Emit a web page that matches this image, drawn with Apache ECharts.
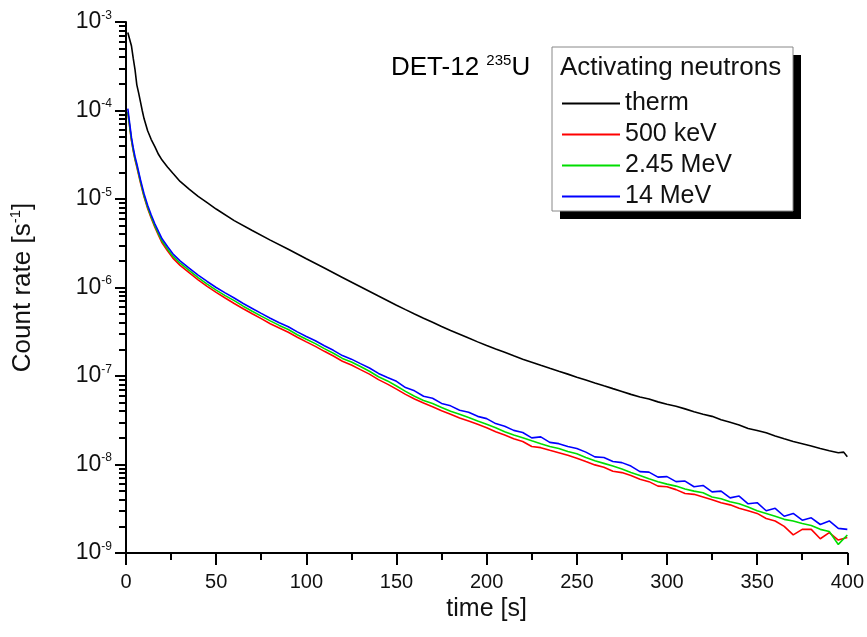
<!DOCTYPE html>
<html><head><meta charset="utf-8">
<script src="https://cdn.jsdelivr.net/npm/echarts@6/dist/echarts.min.js"></script>
<style>html,body{margin:0;padding:0;background:#fff}#c{width:867px;height:637px}</style>
</head><body><div id="c"></div>
<script>
// ---- data ----
const seriesNames = ['therm', '500 keV', '2.45 MeV', '14 MeV'];
const seriesColors = ['#000000', '#ff0000', '#00dd00', '#0000ff'];

const timeTherm = [1,2,3,4,5,6,7,8,9,10,12,14,16,18,20,23,26,30,35,40,45,50,60,70,80,90,100,110,120,130,140,
  150,155,160,165,170,175,180,185,190,195,200,205,210,215,220,225,230,235,240,245,250,255,260,265,270,275,280,285,290,295,
  300,305,310,315,320,325,330,335,340,345,350,355,360,365,370,375,380,385,390,395,398,400];
const therm = [7.6e-4,7.4e-4,5.4e-4,3.9e-4,2.9e-4,1.95e-4,1.58e-4,1.26e-4,1.0e-4,8.1e-5,5.9e-5,4.7e-5,3.9e-5,3.2e-5,2.75e-5,2.3e-5,1.95e-5,1.58e-5,1.29e-5,1.07e-5,9.1e-6,7.7e-6,5.7e-6,4.4e-6,3.43e-6,2.7e-6,2.11e-6,1.66e-6,1.3e-6,1.02e-6,8.0e-7,
  6.31e-7,5.62e-7,5.02e-7,4.5e-7,4.04e-7,3.63e-7,3.27e-7,2.96e-7,2.68e-7,2.43e-7,2.21e-7,2.02e-7,1.85e-7,1.69e-7,1.55e-7,1.43e-7,1.32e-7,1.22e-7,1.13e-7,1.05e-7,9.7e-8,9.0e-8,8.35e-8,7.75e-8,7.2e-8,6.7e-8,6.2e-8,5.8e-8,5.5e-8,5.1e-8,
  4.8e-8,4.55e-8,4.25e-8,3.95e-8,3.7e-8,3.5e-8,3.2e-8,3.0e-8,2.8e-8,2.55e-8,2.42e-8,2.28e-8,2.1e-8,1.95e-8,1.82e-8,1.72e-8,1.62e-8,1.52e-8,1.43e-8,1.36e-8,1.38e-8,1.22e-8];

const timeFast = [1,2,3,4,5,6,7,8,9,10,12,14,16,18,20,23,26,30,35,40,45,
  50,55,60,65,70,75,80,85,90,95,100,105,110,115,120,125,130,135,140,145,150,155,160,165,170,175,180,185,190,195,
  200,205,210,215,220,225,230,235,240,245,250,255,260,265,270,275,280,285,290,295,
  300,305,310,315,320,325,330,335,340,345,350,355,360,365,370,375,380,385,390,395,400];
const kev500 = [9.5e-5,9.2e-5,4.6e-5,3.5e-5,2.78e-5,2.3e-5,1.88e-5,1.53e-5,1.27e-5,1.06e-5,7.8e-6,6.05e-6,4.8e-6,3.9e-6,3.2e-6,2.6e-6,2.15e-6,1.78e-6,1.47e-6,1.22e-6,1.03e-6,
  8.8e-7,7.6e-7,6.6e-7,5.75e-7,5.05e-7,4.45e-7,3.9e-7,3.48e-7,3.12e-7,2.74e-7,2.43e-7,2.16e-7,1.9e-7,1.68e-7,1.47e-7,1.33e-7,1.18e-7,1.05e-7,9.1e-8,8.1e-8,7.1e-8,6.2e-8,5.5e-8,4.95e-8,4.5e-8,4.05e-8,3.7e-8,3.35e-8,3.1e-8,2.85e-8,
  2.6e-8,2.35e-8,2.15e-8,1.95e-8,1.82e-8,1.6e-8,1.55e-8,1.45e-8,1.36e-8,1.27e-8,1.18e-8,1.08e-8,9.9e-9,9.3e-9,8.4e-9,8.1e-9,7.5e-9,6.8e-9,6.4e-9,5.7e-9,
  5.6e-9,5.2e-9,4.7e-9,4.6e-9,4.3e-9,4.0e-9,3.7e-9,3.5e-9,3.2e-9,3.0e-9,2.8e-9,2.45e-9,2.3e-9,2.0e-9,1.6e-9,1.85e-9,1.85e-9,1.45e-9,1.7e-9,1.4e-9,1.5e-9];
const mev245 = [9.6e-5,9.4e-5,4.75e-5,3.6e-5,2.85e-5,2.38e-5,1.94e-5,1.58e-5,1.31e-5,1.09e-5,8.05e-6,6.25e-6,4.95e-6,4.05e-6,3.35e-6,2.73e-6,2.26e-6,1.88e-6,1.56e-6,1.29e-6,1.09e-6,
  9.35e-7,8.1e-7,7.1e-7,6.15e-7,5.4e-7,4.75e-7,4.2e-7,3.73e-7,3.35e-7,2.93e-7,2.6e-7,2.32e-7,2.04e-7,1.81e-7,1.58e-7,1.44e-7,1.28e-7,1.13e-7,9.8e-8,8.8e-8,7.7e-8,6.7e-8,5.9e-8,5.3e-8,4.9e-8,4.4e-8,4.0e-8,3.7e-8,3.4e-8,3.1e-8,
  2.85e-8,2.6e-8,2.35e-8,2.15e-8,2.0e-8,1.85e-8,1.72e-8,1.6e-8,1.52e-8,1.4e-8,1.32e-8,1.2e-8,1.1e-8,1.03e-8,9.6e-9,8.9e-9,8.1e-9,7.5e-9,6.9e-9,6.4e-9,
  6.0e-9,5.7e-9,5.3e-9,5.0e-9,4.8e-9,4.3e-9,4.1e-9,3.8e-9,3.6e-9,3.3e-9,3.0e-9,2.8e-9,2.6e-9,2.4e-9,2.3e-9,2.15e-9,2.05e-9,1.85e-9,1.75e-9,1.25e-9,1.6e-9];
const mev14 = [1.05e-4,1.02e-4,5.0e-5,3.8e-5,3.0e-5,2.5e-5,2.04e-5,1.66e-5,1.38e-5,1.15e-5,8.5e-6,6.6e-6,5.25e-6,4.3e-6,3.55e-6,2.9e-6,2.4e-6,2.0e-6,1.66e-6,1.38e-6,1.17e-6,
  1.0e-6,8.7e-7,7.6e-7,6.6e-7,5.8e-7,5.1e-7,4.5e-7,4.0e-7,3.6e-7,3.15e-7,2.8e-7,2.5e-7,2.2e-7,1.95e-7,1.7e-7,1.55e-7,1.38e-7,1.23e-7,1.07e-7,9.6e-8,8.7e-8,7.4e-8,6.8e-8,5.9e-8,5.6e-8,4.9e-8,4.6e-8,4.1e-8,3.9e-8,3.5e-8,
  3.3e-8,2.9e-8,2.7e-8,2.43e-8,2.3e-8,2.0e-8,2.05e-8,1.78e-8,1.72e-8,1.6e-8,1.52e-8,1.38e-8,1.22e-8,1.2e-8,1.08e-8,1.05e-8,9.6e-9,8.3e-9,8.2e-9,7.2e-9,
  7.3e-9,6.4e-9,6.5e-9,5.6e-9,5.8e-9,4.9e-9,5.0e-9,4.2e-9,4.4e-9,3.6e-9,3.7e-9,3.0e-9,3.2e-9,2.6e-9,2.8e-9,2.35e-9,2.5e-9,2.1e-9,2.3e-9,1.9e-9,1.85e-9];

const xTicks = [0, 50, 100, 150, 200, 250, 300, 350, 400];
const yDecades = [-9, -8, -7, -6, -5, -4, -3];

// ---- build ----
const FONT = '"Liberation Sans", Arial, sans-serif';
const pairs = (t, v) => t.map((x, i) => [x, v[i]]);

const chart = echarts.init(document.getElementById('c'), null, {renderer: 'canvas'});
const mkLine = (name, color, data, z) => ({
  name, type: 'line', data, showSymbol: false, symbol: 'none', z,
  lineStyle: {color, width: 1.6}, itemStyle: {color}, animation: false
});

chart.setOption({
  animation: false,
  backgroundColor: '#ffffff',
  grid: {left: 126, right: 19, top: 22, bottom: 84, containLabel: false},
  xAxis: {
    type: 'value', min: xTicks[0], max: xTicks[xTicks.length - 1], interval: 50,
    name: 'time [s]', nameLocation: 'middle', nameGap: 43,
    nameTextStyle: {fontFamily: FONT, fontSize: 25, color: '#111'},
    axisLine: {lineStyle: {color: '#000', width: 2}},
    axisTick: {show: true, length: 12, lineStyle: {color: '#000', width: 2}},
    minorTick: {show: true, splitNumber: 2, length: 7, lineStyle: {color: '#000', width: 2}},
    splitLine: {show: false},
    axisLabel: {fontFamily: FONT, fontSize: 20, color: '#111', margin: 19}
  },
  yAxis: {
    type: 'log', logBase: 10,
    min: Math.pow(10, yDecades[0]), max: Math.pow(10, yDecades[yDecades.length - 1]),
    name: 'Count rate [s{sup|-1}]', nameLocation: 'middle', nameGap: 89, nameRotate: 90,
    nameTextStyle: {fontFamily: FONT, fontSize: 26, color: '#111',
      rich: {sup: {fontFamily: FONT, fontSize: 15, color: '#111', padding: [0, 0, 14, 0]}}},
    axisLine: {show: true, lineStyle: {color: '#000', width: 2}},
    axisTick: {show: true, length: 11, lineStyle: {color: '#000', width: 2}},
    // 9 divisions between decades: minor ticks at 2..9 x 10^n
    minorTick: {show: true, splitNumber: 9, length: 7, lineStyle: {color: '#000', width: 2}},
    minorSplitLine: {show: false},
    splitLine: {show: false},
    axisLabel: {
      margin: 14,
      formatter: v => '{b|10}{s|' + Math.round(Math.log10(v)) + '}',
      rich: {
        b: {fontFamily: FONT, fontSize: 23, color: '#111'},
        s: {fontFamily: FONT, fontSize: 12, color: '#111', padding: [0, 0, 13, 0]}
      }
    }
  },
  legend: {
    data: seriesNames, orient: 'vertical', left: 562, top: 91, padding: 0,
    icon: 'rect', itemWidth: 58, itemHeight: 2, itemGap: 6,
    textStyle: {fontFamily: FONT, fontSize: 25, lineHeight: 25, color: '#111'},
    z: 20
  },
  graphic: [
    {type: 'rect', z: 15, shape: {x: 560, y: 55, width: 241, height: 164}, style: {fill: '#000'}},
    {type: 'rect', z: 16, shape: {x: 552, y: 47, width: 241, height: 164}, style: {fill: '#fff', stroke: '#888', lineWidth: 1}},
    {type: 'text', z: 17, x: 560, y: 68, style: {text: 'Activating neutrons', font: '26px ' + FONT, fill: '#111', verticalAlign: 'middle'}},
    {type: 'text', z: 17, x: 391, y: 68, style: {
      text: '{m|DET-12 }{s|235}{m|U}', verticalAlign: 'middle',
      rich: {m: {fontFamily: FONT, fontSize: 26, color: '#111'},
             s: {fontFamily: FONT, fontSize: 15, color: '#111', padding: [0, 0, 15, 0]}}
    }}
  ],
  series: [
    mkLine(seriesNames[0], seriesColors[0], pairs(timeTherm, therm), 3),
    mkLine(seriesNames[1], seriesColors[1], pairs(timeFast, kev500), 4),
    mkLine(seriesNames[2], seriesColors[2], pairs(timeFast, mev245), 5),
    mkLine(seriesNames[3], seriesColors[3], pairs(timeFast, mev14), 6)
  ]
});
</script></body></html>
